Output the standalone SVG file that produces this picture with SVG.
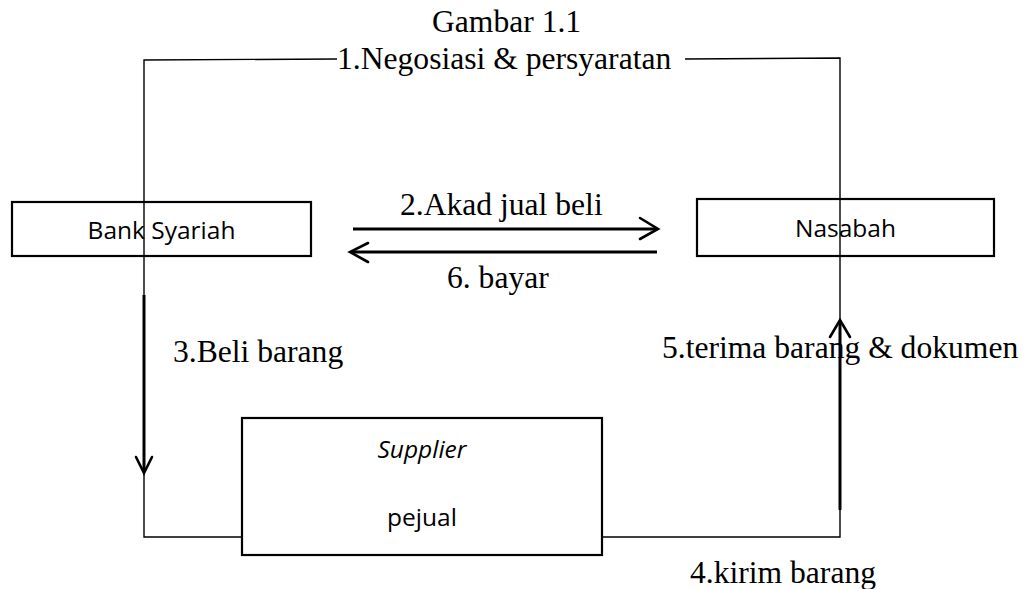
<svg xmlns="http://www.w3.org/2000/svg" width="1026" height="589" viewBox="0 0 1026 589">
<style>
.serif{font-family:"Liberation Serif","Times New Roman",serif;font-size:31.6px;fill:#000}
.sans{font-family:"Open Sans","Liberation Sans",sans-serif;font-size:24.5px;fill:#000;text-anchor:middle}
.box{fill:#fff;stroke:#000;stroke-width:2.2}
.thin{fill:none;stroke:#000;stroke-width:1.4}
.thick{fill:none;stroke:#000;stroke-width:3}
.head{fill:none;stroke:#000;stroke-width:2.6;stroke-linecap:round;stroke-linejoin:miter}
</style>
<rect width="1026" height="589" fill="#fff"/>
<text class="serif" x="432" y="32">Gambar 1.1</text>
<g id="bank">
<rect class="box" x="12" y="202" width="299" height="54"/>
<text class="sans" x="161.5" y="239">Bank Syariah</text>
</g>
<g id="nasabah">
<rect class="box" x="697" y="199" width="297" height="57"/>
<text class="sans" x="845.5" y="237">Nasabah</text>
</g>
<g id="supplier">
<rect class="box" x="242" y="418" width="360" height="137"/>
<text class="sans" x="422" y="458" font-style="italic">Supplier</text>
<text class="sans" x="422" y="526">pejual</text>
</g>
<g id="connectors">
<polyline class="thin" points="337,59 144,60 144,537 242,537"/>
<polyline class="thin" points="685,59 840,58 840,537 602,537"/>
<line class="thick" x1="144" y1="295" x2="144" y2="472"/>
<polyline class="head" points="136,457 144,473 152,457"/>
<line class="thick" x1="840" y1="321" x2="840" y2="510"/>
<polyline class="head" points="830,337 840,320 850,337"/>
<line class="thick" x1="353" y1="229" x2="657" y2="229"/>
<polyline class="head" points="640,218 658,229 640,239"/>
<line class="thick" x1="351" y1="252" x2="657" y2="252"/>
<polyline class="head" points="368,243 350,252 368,262"/>
</g>
<g id="labels">
<text class="serif" x="337" y="69">1.Negosiasi &amp; persyaratan</text>
<text class="serif" x="400" y="215">2.Akad jual beli</text>
<text class="serif" x="447" y="288">6. bayar</text>
<text class="serif" x="173" y="362">3.Beli barang</text>
<text class="serif" x="662" y="358">5.terima barang &amp; dokumen</text>
<text class="serif" x="690" y="583">4.kirim barang</text>
</g>
</svg>
